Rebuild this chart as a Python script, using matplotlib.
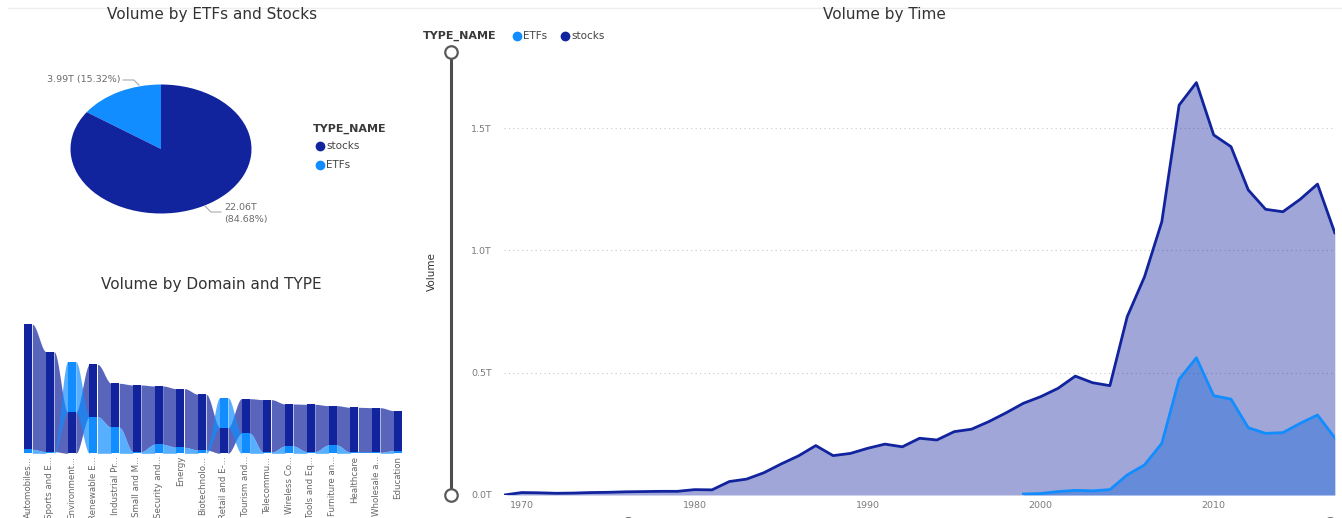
import matplotlib.pyplot as plt
import numpy as np
from matplotlib.ticker import FuncFormatter

W, H = 1342, 518

# ---- data -------------------------------------------------------------
type_names = ['ETFs', 'stocks']
type_totals = [3.99, 22.06]  # trillions

domains = ['Automobiles...', 'Sports and E...', 'Environment...', 'Renewable E...',
           'Industrial Pr...', 'Small and M...', 'Security and...', 'Energy',
           'Biotechnolo...', 'Retail and E-...', 'Tourism and...', 'Telecommu...',
           'Wireless Co...', 'Tools and Eq...', 'Furniture an...', 'Healthcare',
           'Wholesale a...', 'Education']
domain_stocks = [1.875, 1.500, 0.615, 0.785, 0.660, 1.000, 0.875, 0.880, 0.835,
                 0.385, 0.520, 0.790, 0.630, 0.710, 0.590, 0.675, 0.670, 0.600]
domain_etfs = [0.060, 0.025, 0.760, 0.550, 0.390, 0.025, 0.135, 0.090, 0.050,
               0.450, 0.300, 0.015, 0.110, 0.025, 0.125, 0.015, 0.015, 0.040]

stock_years = list(range(1969, 2018))
stock_volume = [0.000, 0.010, 0.009, 0.007, 0.008, 0.010, 0.011, 0.013, 0.014, 0.015,
                0.015, 0.022, 0.021, 0.055, 0.065, 0.091, 0.127, 0.160, 0.202, 0.161,
                0.170, 0.191, 0.208, 0.197, 0.232, 0.225, 0.259, 0.269, 0.300, 0.336,
                0.375, 0.402, 0.436, 0.486, 0.459, 0.447, 0.729, 0.892, 1.117, 1.594,
                1.686, 1.472, 1.424, 1.247, 1.168, 1.158, 1.209, 1.271, 1.072]
etf_years = list(range(1999, 2018))
etf_volume = [0.004, 0.006, 0.014, 0.019, 0.017, 0.022, 0.082, 0.123, 0.211, 0.473,
              0.561, 0.406, 0.392, 0.275, 0.252, 0.255, 0.293, 0.327, 0.234]

NAVY = '#12239E'
BLUE = '#118DFF'
TITLE_C = '#333333'
TICK_C = '#7a7a7a'

plt.rcParams['font.family'] = ['DejaVu Sans']

fig = plt.figure(figsize=(W / 100, H / 100), dpi=100)
fig.patch.set_facecolor('white')


def px_axes(x0, y0, x1, y1):
    return fig.add_axes([x0 / W, 1 - y1 / H, (x1 - x0) / W, (y1 - y0) / H])


# ---- pie --------------------------------------------------------------
axp = px_axes(70.5, 84.5, 251.5, 213.5)
axp.pie(type_totals, colors=[BLUE, NAVY], startangle=90, counterclock=True,
        wedgeprops=dict(linewidth=0))
axp.set_aspect('auto')
axp.set_xlim(-1, 1)
axp.set_ylim(-1, 1)
total = sum(type_totals)
lab_c = '#6a6a6a'
axp.text(-0.45, 1.07, f'{type_totals[0]:.2f}T ({type_totals[0] / total * 100:.2f}%)',
         ha='right', va='center', fontsize=6.8, color=lab_c)
axp.plot([-0.42, -0.30, -0.243], [1.07, 1.07, 0.99], color='#aaaaaa', lw=0.8, clip_on=False)
axp.text(0.70, -0.91, f'{type_totals[1]:.2f}T', ha='left', va='center', fontsize=6.8, color=lab_c)
axp.text(0.70, -1.10, f'({type_totals[1] / total * 100:.2f}%)', ha='left', va='center',
         fontsize=6.8, color=lab_c)
axp.plot([0.486, 0.552, 0.663], [-0.884, -0.977, -0.977], color='#aaaaaa', lw=0.8, clip_on=False)

# ---- ribbon chart -----------------------------------------------------
axr = px_axes(20, 300, 406, 453.3)
bw = 0.37
n = len(domains)
pos = np.arange(n)
stocks_bottom, etf_bottom = [], []
for s, e in zip(domain_stocks, domain_etfs):
    # the larger series sits on top of each column
    if s >= e:
        stocks_bottom.append(e)
        etf_bottom.append(0.0)
    else:
        stocks_bottom.append(0.0)
        etf_bottom.append(s)

t = np.linspace(0, 1, 60)
ease = 3 * t ** 2 - 2 * t ** 3
for vals, bots, col in [(domain_stocks, stocks_bottom, NAVY), (domain_etfs, etf_bottom, BLUE)]:
    for i in range(n - 1):
        xs = np.linspace(i + bw / 2, i + 1 - bw / 2, 60)
        lo = bots[i] + (bots[i + 1] - bots[i]) * ease
        hi = bots[i] + vals[i] + (bots[i + 1] + vals[i + 1] - bots[i] - vals[i]) * ease
        axr.fill_between(xs, lo, hi, color=col, alpha=0.7, lw=0, zorder=2)
axr.bar(pos, domain_stocks, bottom=stocks_bottom, width=bw, color=NAVY, zorder=3)
axr.bar(pos, domain_etfs, bottom=etf_bottom, width=bw, color=BLUE, zorder=3)
axr.set_xlim(-0.38, n - 1 + 0.38)
axr.set_ylim(0, 2.3)
axr.set_yticks([])
axr.set_xticks(pos)
axr.set_xticklabels(domains, rotation=90, fontsize=6.2, color='#666666')
axr.tick_params(axis='x', length=0, pad=2)
for sp in axr.spines.values():
    sp.set_visible(False)

# ---- area chart over time ---------------------------------------------
axt = px_axes(504.4, 52, 1334.8, 495)
axt.fill_between(etf_years, etf_volume, color=BLUE, alpha=0.4, lw=0)
axt.fill_between(stock_years, stock_volume, color=NAVY, alpha=0.4, lw=0)
axt.plot(stock_years, stock_volume, color=NAVY, lw=2)
axt.plot(etf_years, etf_volume, color=BLUE, lw=2)
axt.set_xlim(1969, 2017)
axt.set_ylim(0, 443 / 244.6)
axt.set_yticks([0, 0.5, 1.0, 1.5])
axt.yaxis.set_major_formatter(FuncFormatter(lambda v, p: f'{v:.1f}T'))
axt.set_xticks([1970, 1980, 1990, 2000, 2010])
axt.tick_params(axis='y', length=0, pad=9, labelsize=6.8, labelcolor=TICK_C)
axt.tick_params(axis='x', length=0, pad=4, labelsize=6.8, labelcolor=TICK_C)
for v in [0.5, 1.0, 1.5]:
    axt.axhline(v, color='#c8c8c8', lw=0.8, ls=(0, (1, 3)), zorder=0)
for sp in axt.spines.values():
    sp.set_visible(False)

# ---- titles, legends and slider decorations ----------------------------
ax0 = fig.add_axes([0, 0, 1, 1], zorder=5)
ax0.set_xlim(0, W)
ax0.set_ylim(H, 0)
ax0.axis('off')
ax0.patch.set_alpha(0)

ax0.plot([8, W], [8, 8], color='#eeeeee', lw=1)
ax0.text(212, 15, 'Volume by ETFs and Stocks', ha='center', va='center', fontsize=11, color=TITLE_C)
ax0.text(211, 284, 'Volume by Domain and TYPE', ha='center', va='center', fontsize=11, color=TITLE_C)
ax0.text(884, 15, 'Volume by Time', ha='center', va='center', fontsize=11, color=TITLE_C)

# pie legend
ax0.text(313, 129, 'TYPE_NAME', ha='left', va='center', fontsize=8, fontweight='bold', color='#3a3a3a')
ax0.plot(320, 146, 'o', ms=6, color=NAVY)
ax0.text(326, 146, 'stocks', ha='left', va='center', fontsize=7.5, color='#444444')
ax0.plot(320, 165, 'o', ms=6, color=BLUE)
ax0.text(326, 165, 'ETFs', ha='left', va='center', fontsize=7.5, color='#444444')

# time chart legend
ax0.text(423, 36, 'TYPE_NAME', ha='left', va='center', fontsize=8, fontweight='bold', color='#3a3a3a')
ax0.plot(517, 36, 'o', ms=6, color=BLUE)
ax0.text(523, 36, 'ETFs', ha='left', va='center', fontsize=7.5, color='#444444')
ax0.plot(565, 36, 'o', ms=6, color=NAVY)
ax0.text(571, 36, 'stocks', ha='left', va='center', fontsize=7.5, color='#444444')

ax0.text(432, 272, 'Volume', rotation=90, ha='center', va='center', fontsize=7.5, color='#333333')

# zoom sliders
ax0.plot([451, 451], [52, 495], color='#4d4d4d', lw=2.2, solid_capstyle='butt')
ax0.plot([451, 451], [52, 495], 'o', ms=9, mfc='white', mec='#5a5a5a', mew=1.6, ls='none')
ax0.plot([628, 1330], [524, 524], 'o', ms=9, mfc='white', mec='#5a5a5a', mew=1.6, ls='none')

fig.savefig('out.png', dpi=100)
